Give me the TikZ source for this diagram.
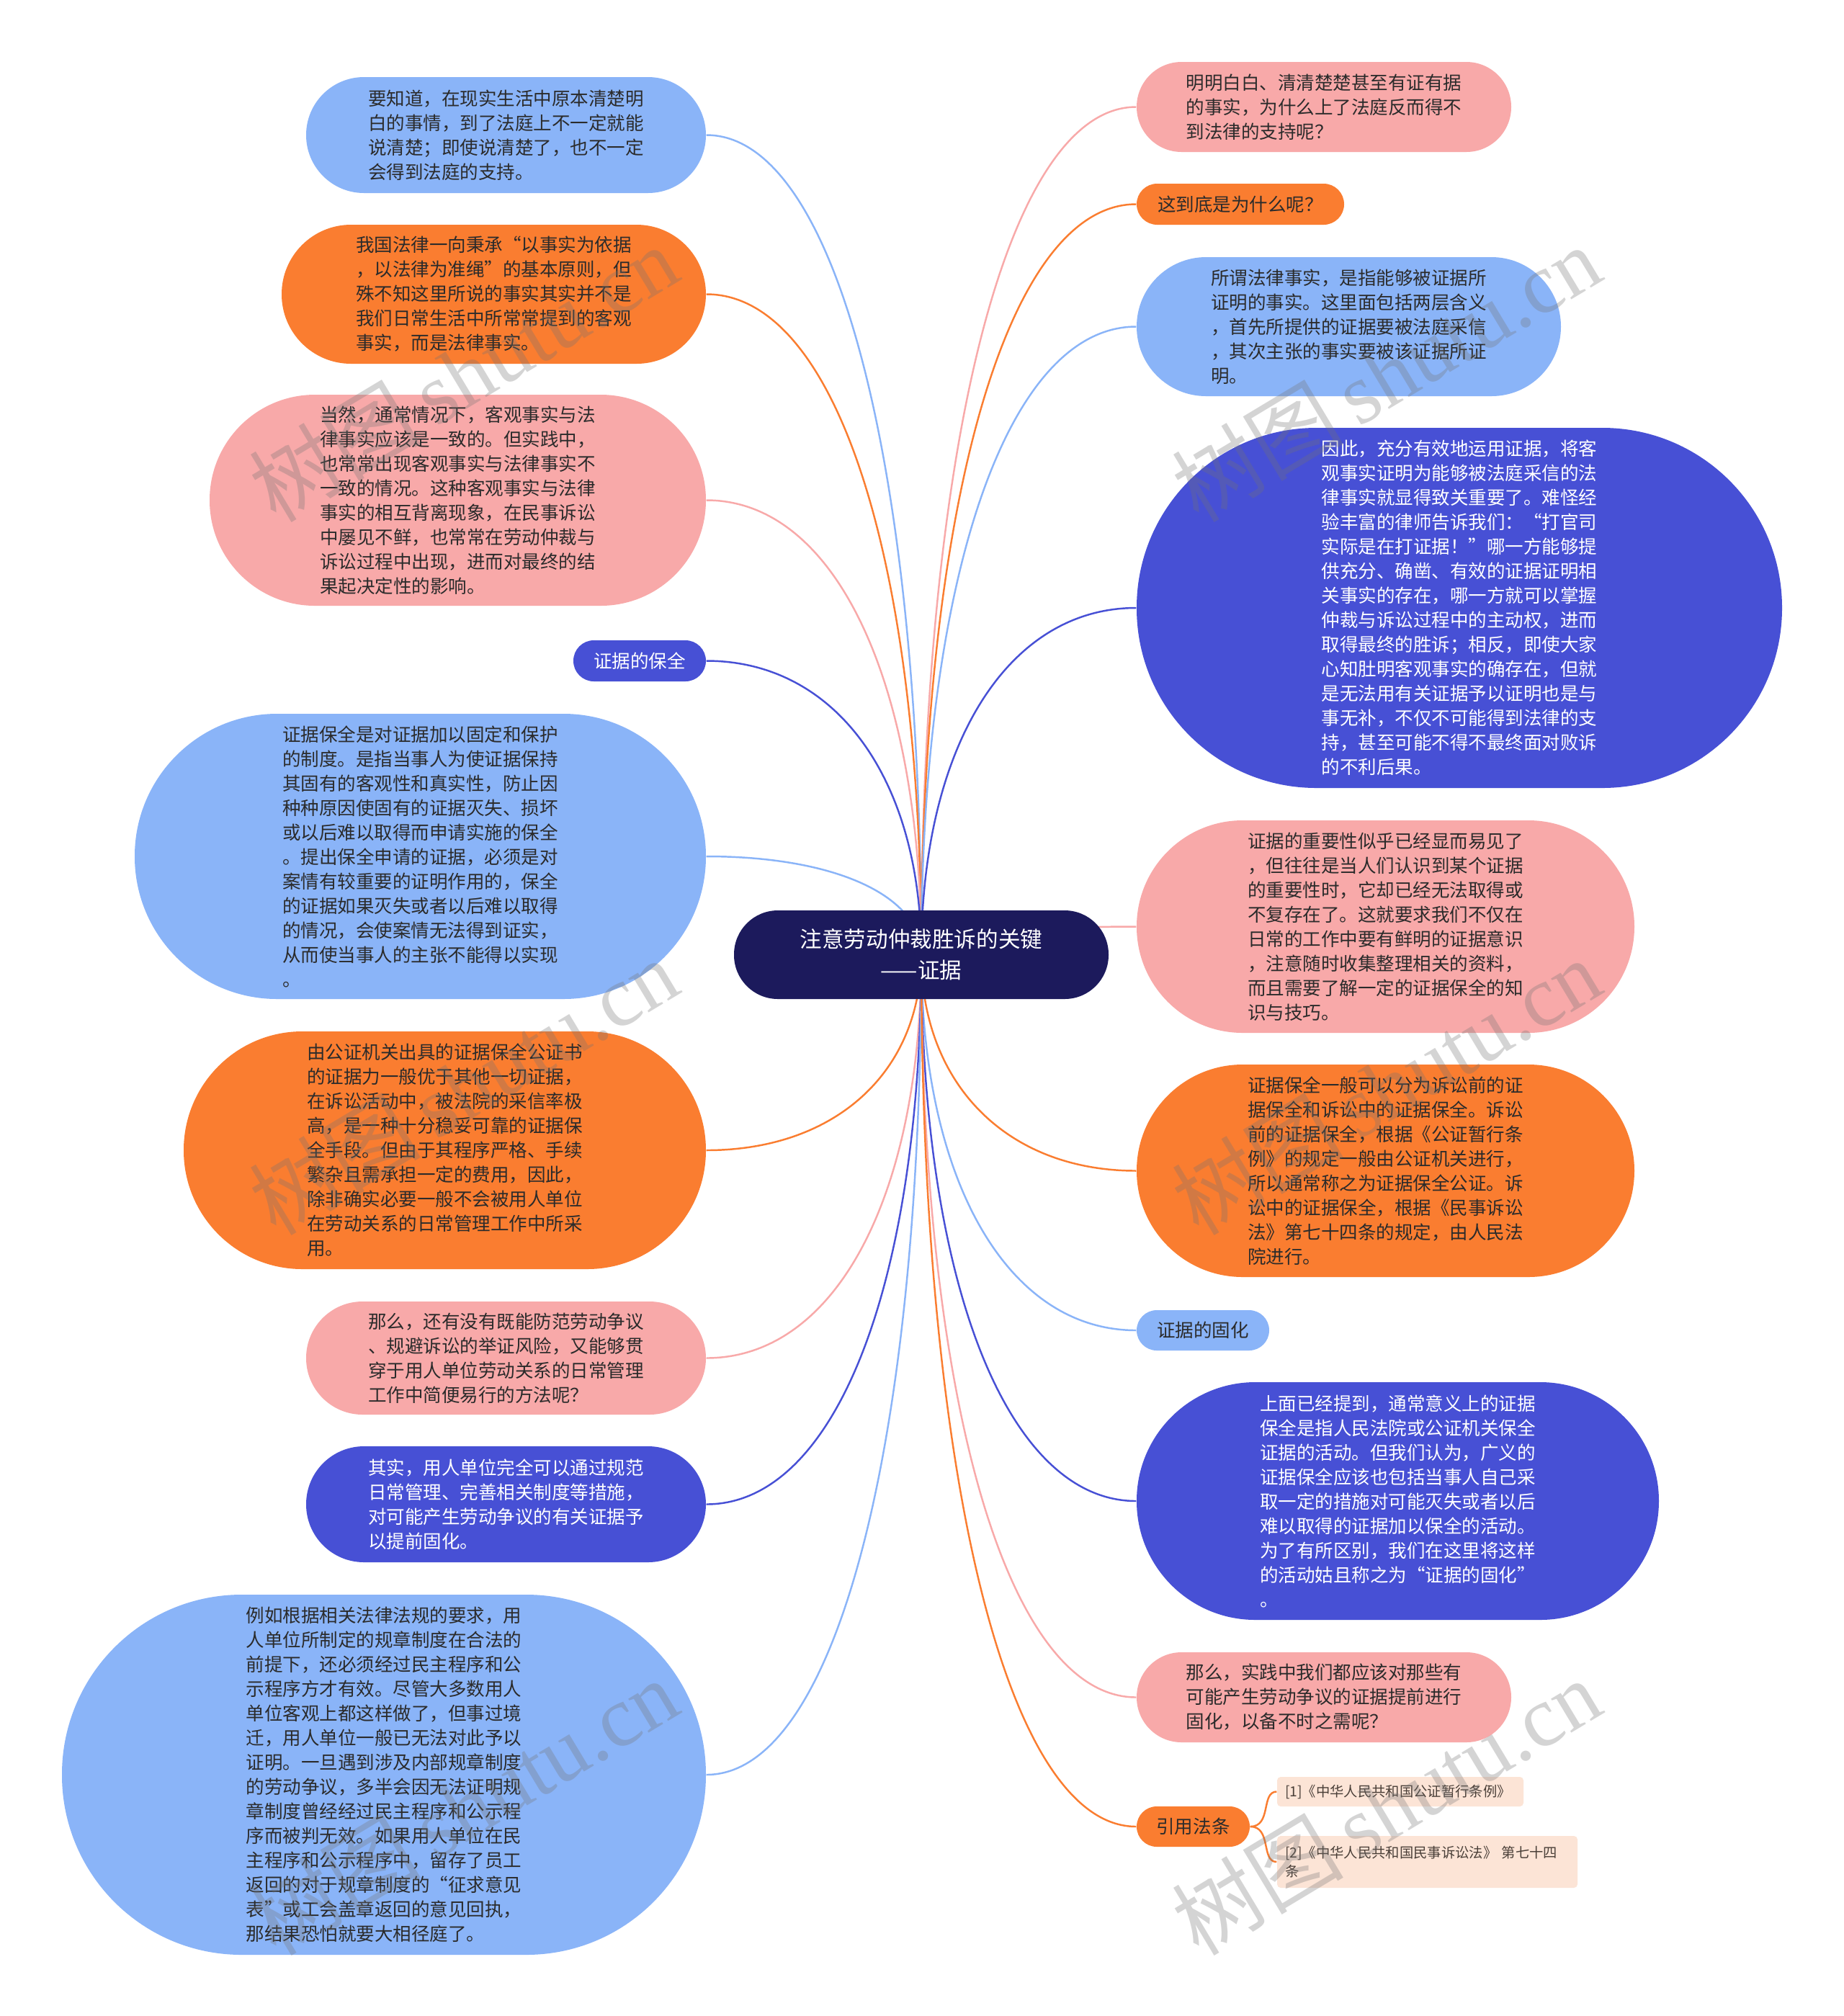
\documentclass[tikz,border=0pt]{standalone}
\usepackage{fontspec}
\setmainfont{Noto Sans CJK SC}
\newfontfamily\wmserif{Liberation Serif}
\usetikzlibrary{calc,backgrounds}
\definecolor{lb}{HTML}{8AB4F8}
\definecolor{og}{HTML}{FA7D30}
\definecolor{pk}{HTML}{F8A9A9}
\definecolor{db}{HTML}{4750D5}
\definecolor{nv}{HTML}{1C1A5C}
\definecolor{tx}{HTML}{2B2B2B}
\definecolor{pe}{HTML}{FCE4D6}
\definecolor{stx}{HTML}{4A3F38}
\tikzset{
  pill/.style 2 args={shape=rectangle, minimum width=#1cm, minimum height=#2cm,
    rounded corners=#2*0.499cm, inner sep=0pt, align=left, text=tx,
    font=\fontsize{7.26}{9.67}\selectfont},
  mainbox/.style={shape=rectangle, fill=nv, text=white, minimum width=5.2cm,
    minimum height=1.23cm, rounded corners=0.61cm, inner sep=0pt, align=center,
    font=\fontsize{8.7}{12.2}\selectfont},
  refbox/.style={shape=rectangle, fill=pe, rounded corners=0.05cm, inner sep=0pt,
    align=left, text=stx, font=\fontsize{5.5}{7.6}\selectfont},
  conn/.style={line width=0.7pt},
  wm/.style={rotate=31, text=black!55, opacity=0.3, inner sep=0pt,
    font=\fontsize{34}{34}\selectfont}
}
\newcommand\link[2]{\draw[conn,#1] (main.center) .. controls ($(main.center)!0.6!(main.center |- #2)$) and ($(#2)!0.6!(main.center |- #2)$) .. (#2);}
\begin{document}
\begin{tikzpicture}
\useasboundingbox (0,0) rectangle (25.6,-27.99);

% central node
\node[mainbox] (main) at (12.79,-13.255) {注意劳动仲裁胜诉的关键\\——证据};

% left side
\node[pill={5.55}{1.61}, fill=lb] (L1) at (7.025,-1.875) {要知道，在现实生活中原本清楚明\\
白的事情，到了法庭上不一定就能\\
说清楚；即使说清楚了，也不一定\\
会得到法庭的支持。};
\node[pill={5.89}{1.93}, fill=og] (L2) at (6.855,-4.085) {我国法律一向秉承“以事实为依据\\
，以法律为准绳”的基本原则，但\\
殊不知这里所说的事实其实并不是\\
我们日常生活中所常常提到的客观\\
事实，而是法律事实。};
\node[pill={6.89}{2.93}, fill=pk] (L3) at (6.355,-6.945) {当然，通常情况下，客观事实与法\\
律事实应该是一致的。但实践中，\\
也常常出现客观事实与法律事实不\\
一致的情况。这种客观事实与法律\\
事实的相互背离现象，在民事诉讼\\
中屡见不鲜，也常常在劳动仲裁与\\
诉讼过程中出现，进而对最终的结\\
果起决定性的影响。};
\node[pill={1.84}{0.57}, fill=db, text=white] (L4) at (8.88,-9.175) {证据的保全};
\node[pill={7.93}{3.96}, fill=lb] (L5) at (5.835,-11.89) {证据保全是对证据加以固定和保护\\
的制度。是指当事人为使证据保持\\
其固有的客观性和真实性，防止因\\
种种原因使固有的证据灭失、损坏\\
或以后难以取得而申请实施的保全\\
。提出保全申请的证据，必须是对\\
案情有较重要的证明作用的，保全\\
的证据如果灭失或者以后难以取得\\
的情况，会使案情无法得到证实，\\
从而使当事人的主张不能得以实现\\
。};
\node[pill={7.25}{3.30}, fill=og] (L6) at (6.175,-15.97) {由公证机关出具的证据保全公证书\\
的证据力一般优于其他一切证据，\\
在诉讼活动中，被法院的采信率极\\
高，是一种十分稳妥可靠的证据保\\
全手段。但由于其程序严格、手续\\
繁杂且需承担一定的费用，因此，\\
除非确实必要一般不会被用人单位\\
在劳动关系的日常管理工作中所采\\
用。};
\node[pill={5.55}{1.57}, fill=pk] (L7) at (7.025,-18.855) {那么，还有没有既能防范劳动争议\\
、规避诉讼的举证风险，又能够贯\\
穿于用人单位劳动关系的日常管理\\
工作中简便易行的方法呢？};
\node[pill={5.55}{1.61}, fill=db, text=white] (L8) at (7.025,-20.885) {其实，用人单位完全可以通过规范\\
日常管理、完善相关制度等措施，\\
对可能产生劳动争议的有关证据予\\
以提前固化。};
\node[pill={8.94}{5.00}, fill=lb] (L9) at (5.33,-24.64) {例如根据相关法律法规的要求，用\\
人单位所制定的规章制度在合法的\\
前提下，还必须经过民主程序和公\\
示程序方才有效。尽管大多数用人\\
单位客观上都这样做了，但事过境\\
迁，用人单位一般已无法对此予以\\
证明。一旦遇到涉及内部规章制度\\
的劳动争议，多半会因无法证明规\\
章制度曾经经过民主程序和公示程\\
序而被判无效。如果用人单位在民\\
主程序和公示程序中，留存了员工\\
返回的对于规章制度的“征求意见\\
表”或工会盖章返回的意见回执，\\
那结果恐怕就要大相径庭了。};

% right side
\node[pill={5.20}{1.25}, fill=pk] (R1) at (18.38,-1.485) {明明白白、清清楚楚甚至有证有据\\
的事实，为什么上了法庭反而得不\\
到法律的支持呢？};
\node[pill={2.88}{0.57}, fill=og] (R2) at (17.22,-2.835) {这到底是为什么呢？};
\node[pill={5.89}{1.93}, fill=lb] (R3) at (18.725,-4.535) {所谓法律事实，是指能够被证据所\\
证明的事实。这里面包括两层含义\\
，首先所提供的证据要被法庭采信\\
，其次主张的事实要被该证据所证\\
明。};
\node[pill={8.96}{5.00}, fill=db, text=white] (R4) at (20.26,-8.44) {因此，充分有效地运用证据，将客\\
观事实证明为能够被法庭采信的法\\
律事实就显得致关重要了。难怪经\\
验丰富的律师告诉我们：“打官司\\
实际是在打证据！”哪一方能够提\\
供充分、确凿、有效的证据证明相\\
关事实的存在，哪一方就可以掌握\\
仲裁与诉讼过程中的主动权，进而\\
取得最终的胜诉；相反，即使大家\\
心知肚明客观事实的确存在，但就\\
是无法用有关证据予以证明也是与\\
事无补，不仅不可能得到法律的支\\
持，甚至可能不得不最终面对败诉\\
的不利后果。};
\node[pill={6.91}{2.95}, fill=pk] (R5) at (19.235,-12.865) {证据的重要性似乎已经显而易见了\\
，但往往是当人们认识到某个证据\\
的重要性时，它却已经无法取得或\\
不复存在了。这就要求我们不仅在\\
日常的工作中要有鲜明的证据意识\\
，注意随时收集整理相关的资料，\\
而且需要了解一定的证据保全的知\\
识与技巧。};
\node[pill={6.91}{2.95}, fill=og] (R6) at (19.235,-16.255) {证据保全一般可以分为诉讼前的证\\
据保全和诉讼中的证据保全。诉讼\\
前的证据保全，根据《公证暂行条\\
例》的规定一般由公证机关进行，\\
所以通常称之为证据保全公证。诉\\
讼中的证据保全，根据《民事诉讼\\
法》第七十四条的规定，由人民法\\
院进行。};
\node[pill={1.84}{0.56}, fill=lb] (R7) at (16.70,-18.47) {证据的固化};
\node[pill={7.25}{3.30}, fill=db, text=white] (R8) at (19.405,-20.84) {上面已经提到，通常意义上的证据\\
保全是指人民法院或公证机关保全\\
证据的活动。但我们认为，广义的\\
证据保全应该也包括当事人自己采\\
取一定的措施对可能灭失或者以后\\
难以取得的证据加以保全的活动。\\
为了有所区别，我们在这里将这样\\
的活动姑且称之为“证据的固化”\\
。};
\node[pill={5.20}{1.25}, fill=pk] (R9) at (18.38,-23.565) {那么，实践中我们都应该对那些有\\
可能产生劳动争议的证据提前进行\\
固化，以备不时之需呢？};
\node[pill={1.57}{0.56}, fill=og] (R10) at (16.565,-25.36) {引用法条};

\node[refbox, minimum width=3.42cm, minimum height=0.41cm, text width=3.2cm] (S1) at (19.44,-24.875) {[1]《中华人民共和国公证暂行条例》};
\node[refbox, minimum width=4.17cm, minimum height=0.72cm, text width=3.95cm] (S2) at (19.815,-25.85) {[2]《中华人民共和国民事诉讼法》 第七十四\\条};

% background and connectors
\begin{scope}[on background layer]
\fill[white] (0,0) rectangle (25.6,-27.99);
\link{lb}{L1.east}
\link{og}{L2.east}
\link{pk}{L3.east}
\link{db}{L4.east}
\link{lb}{L5.east}
\link{og}{L6.east}
\link{pk}{L7.east}
\link{db}{L8.east}
\link{lb}{L9.east}
\link{pk}{R1.west}
\link{og}{R2.west}
\link{lb}{R3.west}
\link{db}{R4.west}
\link{pk}{R5.west}
\link{og}{R6.west}
\link{lb}{R7.west}
\link{db}{R8.west}
\link{pk}{R9.west}
\link{og}{R10.west}
\draw[conn,og] (R10.east) .. controls +(0.3,0) and +(-0.22,0) .. (S1.west);
\draw[conn,og] (R10.east) .. controls +(0.3,0) and +(-0.22,0) .. (S2.west);
\end{scope}

% watermarks
\node[wm] (W1) at (6.43,-5.18) {树图\,{\wmserif shutu.cn}};
\node[wm] (W2) at (19.24,-5.18) {树图\,{\wmserif shutu.cn}};
\node[wm] (W3) at (6.43,-15.08) {树图\,{\wmserif shutu.cn}};
\node[wm] (W4) at (19.24,-15.08) {树图\,{\wmserif shutu.cn}};
\node[wm] (W5) at (6.43,-25.08) {树图\,{\wmserif shutu.cn}};
\node[wm] (W6) at (19.24,-25.08) {树图\,{\wmserif shutu.cn}};
\end{tikzpicture}
\end{document}
